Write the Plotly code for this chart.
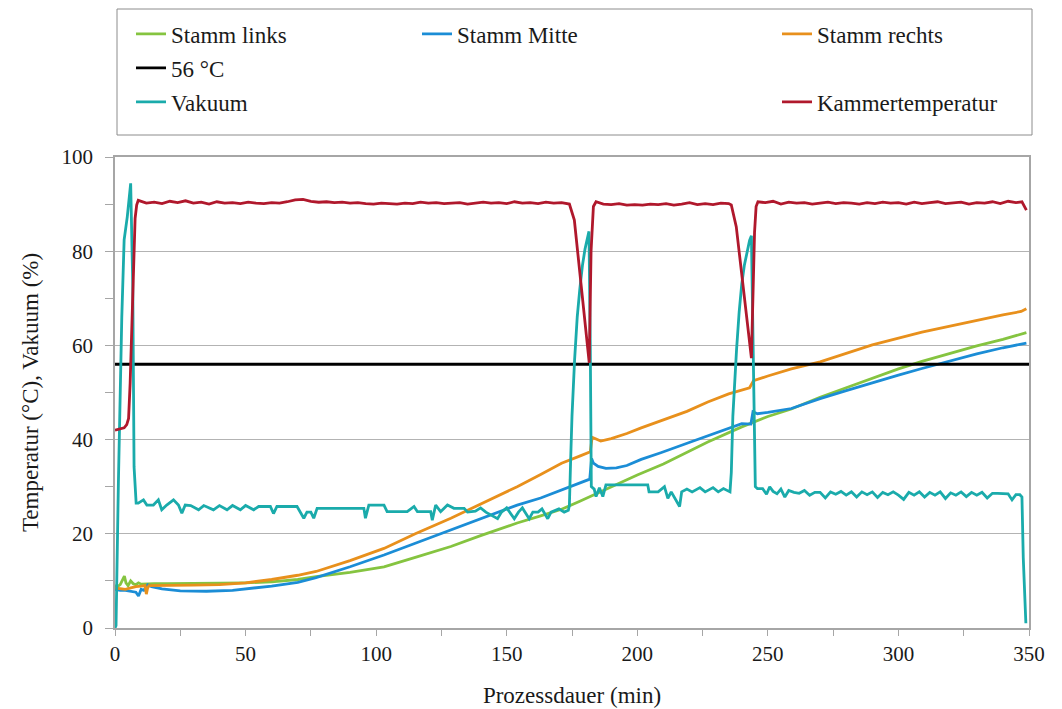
import plotly.graph_objects as go

# ---------------- data ----------------
links_t = [0, 1, 2, 3, 3.6, 4.2, 5, 6, 7, 8, 9, 10, 12, 15, 20, 30, 40, 50, 60, 70, 77, 90, 103, 115, 128.6,
           140, 154, 163, 171, 178, 183, 190, 200, 210, 227, 240, 250, 259, 270, 280, 290, 300, 309, 320,
           330, 340, 349]
links_v = [9.0, 8.8, 9.2, 10.4, 11.0, 9.6, 9.0, 10.0, 9.4, 9.2, 9.6, 9.3, 9.4, 9.4, 9.4, 9.4, 9.5, 9.6, 9.8,
           10.3, 10.9, 11.8, 13.0, 15.0, 17.3, 19.6, 22.3, 23.8, 25.2, 26.9, 28.2, 30.0, 32.5, 34.8, 39.5,
           42.7, 44.9, 46.5, 49.0, 51.0, 53.0, 55.0, 56.6, 58.4, 59.9, 61.3, 62.7]

mitte_t = [0, 2, 4, 6, 8, 9, 10, 11, 12.5, 14, 18, 25, 35, 45, 50, 60, 70, 77, 90, 103, 115, 128.6, 140,
           154, 163, 171, 178, 181.8, 182.5, 183.2, 185, 188, 192, 196, 201.5, 209, 222, 235, 240, 243.5,
           244.3, 246, 248, 250, 259, 270, 280, 290, 300, 309, 320, 330, 340, 349]
mitte_v = [8.2, 8.0, 8.0, 7.8, 7.6, 6.8, 8.2, 8.0, 9.2, 8.8, 8.3, 7.9, 7.8, 8.0, 8.3, 8.9, 9.7, 10.7, 13.0,
           15.5, 18.0, 20.8, 23.2, 26.1, 27.6, 29.3, 30.8, 31.6, 36.0, 35.0, 34.3, 33.9, 34.0, 34.5, 35.8,
           37.2, 39.8, 42.5, 43.4, 43.3, 45.9, 45.5, 45.6, 45.8, 46.6, 48.7, 50.4, 52.1, 53.7, 55.1, 56.8,
           58.2, 59.5, 60.5]

rechts_t = [0, 2, 4, 6, 8, 10, 11.5, 12, 12.5, 13, 20, 30, 40, 50, 60, 70, 77, 90, 103, 115, 128.6, 140,
            154, 163, 171, 178.4, 182, 182.7, 184, 186, 190, 196, 201.5, 209, 219, 227, 235, 243, 244.5,
            250, 259, 270, 290, 309, 328, 340, 347, 349]
rechts_v = [8.5, 8.3, 8.2, 8.5, 8.8, 8.9, 9.0, 7.2, 8.5, 9.0, 9.0, 9.1, 9.2, 9.6, 10.3, 11.2, 12.0, 14.3,
            16.9, 20.0, 23.3, 26.3, 30.0, 32.6, 35.0, 36.6, 37.4, 40.5, 40.2, 39.7, 40.2, 41.3, 42.5, 44.0,
            46.0, 48.0, 49.7, 51.0, 52.5, 53.5, 55.0, 56.5, 60.1, 62.8, 65.1, 66.5, 67.2, 67.8]

limit_t = [0, 350]
limit_v = [56, 56]

vakuum_t = [0, 0.4, 1.3, 2.6, 3.5, 4.7, 6.0, 6.8, 7.3, 8.1, 8.9, 10.9, 12.2, 14.7, 16.6, 17.9, 19.8, 22.4,
            24.3, 25.6, 26.9, 29, 32, 34, 37.7, 40, 42.9, 45, 48, 50, 53.1, 55, 59.5, 60.7, 62, 69.7, 72.3,
            73.5, 75, 76.1, 77.4, 85, 95.3, 95.9, 97.2, 103, 104.2, 111.9, 114.5, 115.8, 120.9, 121.5,
            122.8, 124.7, 127.3, 129.8, 133.7, 135, 138, 140, 142, 146.5, 148, 150, 152.9, 154.5, 156,
            158.6, 160, 162, 163.5, 165.7, 167, 170, 172, 173.6,
            174, 174.5, 175, 176, 177, 178, 179, 180, 181, 181.5, 182, 182.4, 183.5, 184.2, 185.5, 186.8,
            188, 195, 204, 204.5, 207, 208, 210.4, 211.7, 213, 216.2, 217, 219, 221, 224, 226, 229, 231,
            233, 235.5,
            236, 236.6, 237.3, 238, 239, 240, 241, 242, 243, 243.7, 244.3, 244.8, 245.2, 246, 248, 249.5,
            250.7, 252, 253.5, 255, 256.5, 258, 260, 262, 264, 266, 268, 270, 272, 274, 276, 278, 280,
            282, 284, 286, 288, 290, 292, 294, 296, 298, 300, 302, 304, 306, 308, 310, 312, 314, 316, 318,
            320, 322, 324, 326, 328, 330, 332, 334, 336, 338, 340, 342, 343.5, 345, 346.5, 347.3, 347.8,
            348.3, 348.8]
vakuum_v = [0, 0.5, 30.8, 66, 82.4, 87.3, 94.4, 73, 34.2, 26.5, 26.5, 27.2, 26.1, 26.1, 27.2, 25.1, 26.1,
            27.2, 26.1, 24.4, 26.1, 26.0, 25.1, 26.0, 25.1, 26.0, 25.1, 26.0, 25.1, 26.0, 25.1, 25.8, 25.8,
            24.3, 25.8, 25.8, 23.3, 24.6, 24.6, 23.3, 25.4, 25.4, 25.4, 23.3, 26.1, 26.1, 24.7, 24.7, 25.8,
            24.7, 24.7, 22.9, 26.1, 24.7, 26.1, 25.4, 25.4, 24.6, 24.8, 25.5, 24.6, 23.2, 24.6, 25.5, 23.2,
            24.6, 25.5, 23.2, 24.6, 24.6, 25.3, 23.2, 24.6, 25.3, 24.6, 25.0,
            26, 36, 45, 57, 66, 72, 77, 80.5, 83, 84.2, 60, 30, 29.5, 27.9, 29.8, 27.9,
            30.4, 30.4, 30.4, 28.9, 29.0, 28.9, 30.0, 27.5, 28.9, 25.8, 28.9, 29.5, 28.9, 29.8, 28.9, 29.8,
            28.9, 29.6, 28.9,
            33, 45, 53, 59, 67, 73, 77, 80, 82.3, 83.3, 62, 38, 30, 29.6, 29.6, 28.4,
            30.0, 29.0, 28.5, 29.5, 27.8, 29.2, 28.8, 28.6, 29.2, 28.2, 28.8, 28.8, 27.6, 28.9, 28.4, 29.0,
            28.2, 28.9, 27.8, 28.9, 28.3, 28.9, 27.7, 28.8, 28.3, 28.9, 28.2, 27.3, 28.8, 28.2, 28.9, 27.8,
            28.8, 28.2, 28.9, 27.5, 28.7, 28.2, 28.9, 27.9, 28.8, 28.2, 28.8, 27.6, 28.6, 28.6, 28.6, 28.5,
            27.2, 28.3, 28.3, 27.8, 15, 6, 1.0]

kammer_t = [0, 2, 3.5, 4.5, 5.2, 5.8, 6.4, 7, 7.7, 8.3, 8.9,
            12, 15, 18, 21, 24, 27, 30, 33, 36, 39, 42, 45, 48, 51, 54, 57, 60, 63, 66, 69, 72, 75, 78,
            81, 84, 87, 90, 93, 96, 99, 102, 105, 108, 111, 114, 117, 120, 123, 126, 129, 132, 135, 138,
            141, 144, 147, 150, 153, 156, 159, 162, 165, 168, 171, 174,
            175.9, 181.6, 182.3, 183.2, 184.2, 187, 190, 193, 196, 199, 202, 205, 208, 211, 214, 217, 220,
            223, 226, 229, 232, 235, 236,
            237.9, 243.7, 244.9, 245.5, 246.2, 249, 252, 255, 258, 261, 264, 267, 270, 273, 276, 279, 282,
            285, 288, 291, 294, 297, 300, 303, 306, 309, 312, 315, 318, 321, 324, 327, 330, 333, 336, 339,
            342, 345, 347.3, 349]
kammer_v = [42.0, 42.3, 42.5, 43.2, 44.5, 52, 62, 75, 87, 89.8, 90.8,
            90.2, 90.4, 90.1, 90.6, 90.3, 90.7, 90.2, 90.4, 90.0, 90.5, 90.2, 90.3, 90.1, 90.4, 90.2, 90.1,
            90.3, 90.2, 90.5, 90.9, 91.0, 90.6, 90.4, 90.5, 90.3, 90.4, 90.2, 90.3, 90.1, 90.0, 90.2, 90.1,
            90.0, 90.2, 90.1, 90.4, 90.2, 90.3, 90.1, 90.2, 90.3, 90.0, 90.2, 90.4, 90.2, 90.3, 90.1, 90.5,
            90.2, 90.3, 90.1, 90.4, 90.2, 90.3, 90.0,
            86.6, 56.3, 80, 89.5, 90.5, 90.0, 89.9, 90.1, 89.8, 89.9, 89.8, 90.0, 89.9, 90.1, 89.8, 90.0,
            90.3, 89.9, 90.1, 89.9, 90.2, 90.1, 89.8,
            85.2, 57.3, 84, 89.5, 90.5, 90.3, 90.6, 90.0, 90.4, 90.2, 90.3, 90.0, 90.2, 90.4, 90.1, 90.3,
            90.2, 90.0, 90.3, 90.1, 90.4, 90.2, 90.3, 90.0, 90.4, 90.1, 90.3, 90.5, 90.1, 90.2, 90.4, 90.0,
            90.3, 90.2, 90.5, 90.1, 90.6, 90.3, 90.5, 88.7]

x_ticks = [0, 50, 100, 150, 200, 250, 300, 350]
y_ticks = [0, 20, 40, 60, 80, 100]

FONT = "Liberation Serif, Times New Roman, serif"

series = [
    ("Stamm links", links_t, links_v, "#85c440", "legend"),
    ("Stamm Mitte", mitte_t, mitte_v, "#1b8dd6", "legend2"),
    ("Stamm rechts", rechts_t, rechts_v, "#e8901c", "legend3"),
    ("56 °C", limit_t, limit_v, "#000000", "legend4"),
    ("Vakuum", vakuum_t, vakuum_v, "#1aabab", "legend5"),
    ("Kammertemperatur", kammer_t, kammer_v, "#b0182c", "legend6"),
]

fig = go.Figure()
for name, t, v, col, lg in series:
    fig.add_trace(go.Scatter(x=t, y=v, mode="lines", name=name, legend=lg,
                             line=dict(color=col, width=2.8)))

# The page body adds an 8px offset, so the figure is 8px smaller on each side.
OFF = 8
W, H = 1062 - OFF, 709 - OFF
ml, mr, mt, mb = 115 - OFF, 33, 157 - OFF, 81
pw, ph = W - ml - mr, H - mt - mb


def px_x(p):
    # p: screenshot pixel x
    return (p - OFF - ml) / pw


def px_y(p):
    # p: screenshot pixel y
    return (H - mb - (p - OFF)) / ph


legend_pos = {
    "legend": (131, 34), "legend2": (417, 34), "legend3": (777, 34),
    "legend4": (131, 68), "legend5": (131, 102), "legend6": (777, 102),
}
layout_legends = {}
for key, (lx, ly) in legend_pos.items():
    layout_legends[key] = dict(x=px_x(lx), y=px_y(ly), xanchor="left", yanchor="middle",
                               bgcolor="rgba(0,0,0,0)", borderwidth=0,
                               font=dict(family=FONT, size=23, color="#1a1a1a"))

fig.update_layout(
    width=W, height=H,
    margin=dict(l=ml, r=mr, t=mt, b=mb, autoexpand=False),
    paper_bgcolor="white", plot_bgcolor="white",
    font=dict(family=FONT, size=21, color="#1a1a1a"),
    showlegend=True,
    **layout_legends,
    shapes=[dict(type="rect", xref="paper", yref="paper",
                 x0=px_x(117), x1=px_x(1032), y0=px_y(135), y1=px_y(9),
                 line=dict(color="#8c8c8c", width=1), fillcolor="rgba(0,0,0,0)")],
)

fig.update_xaxes(
    range=[0, 350], tickvals=x_ticks, ticktext=[str(v) for v in x_ticks],
    automargin=False,
    showgrid=False, zeroline=False, showline=True, linecolor="#a6a6a6", linewidth=1.5,
    mirror=True, ticks="outside", ticklen=6, tickcolor="#a6a6a6", tickwidth=1,
    minor=dict(dtick=25, tick0=0, ticks="outside", ticklen=6, tickcolor="#a6a6a6", showgrid=False),
    title=dict(text="Prozessdauer (min)", standoff=22, font=dict(family=FONT, size=23)),
    tickfont=dict(family=FONT, size=21, color="#1a1a1a"),
)
fig.update_yaxes(
    range=[0, 100], tickvals=y_ticks, ticktext=[str(v) for v in y_ticks],
    automargin=False, ticklabelstandoff=8,
    showgrid=True, gridcolor="#b3b3b3", gridwidth=1.3, zeroline=False,
    showline=True, linecolor="#a6a6a6", linewidth=1.5, mirror=True,
    ticks="outside", ticklen=8, tickcolor="#a6a6a6", tickwidth=1,
    minor=dict(dtick=10, tick0=0, ticks="outside", ticklen=8, tickcolor="#a6a6a6", showgrid=False),
    title=dict(text="Temperatur (°C), Vakuum (%)", standoff=16, font=dict(family=FONT, size=23)),
    tickfont=dict(family=FONT, size=21, color="#1a1a1a"),
)

fig.write_html("out.html")
